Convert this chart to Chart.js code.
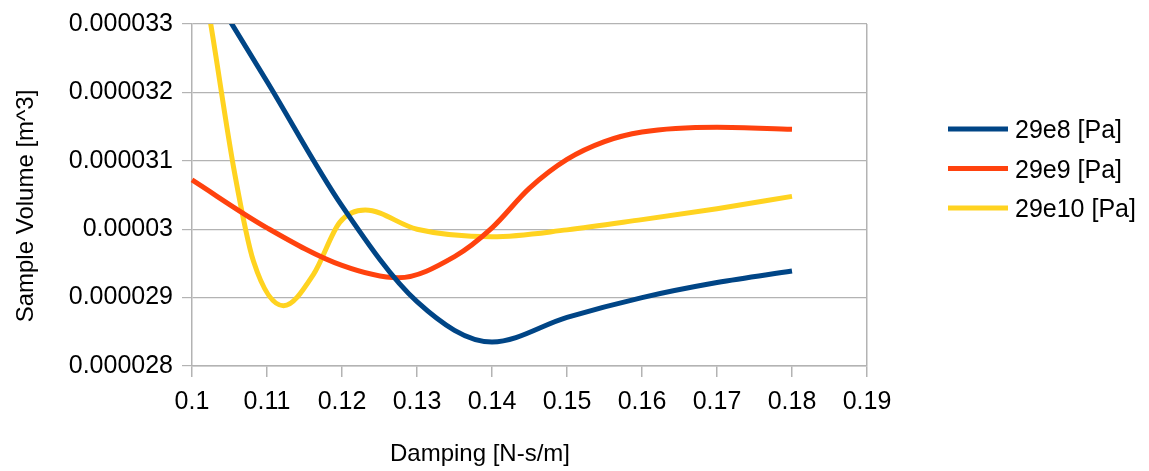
<!DOCTYPE html>
<html>
<head>
<meta charset="utf-8">
<script src="https://cdn.jsdelivr.net/npm/chart.js@4/dist/chart.umd.min.js"></script>
<style>
  html, body { margin: 0; padding: 0; background: #fff; }
  #chart-wrap { width: 1149px; height: 471px; }
</style>
</head>
<body>
<div id="chart-wrap"><canvas id="volume-chart" width="1149" height="471"></canvas></div>
<script>
// --- Data ---
const seriesLabels = ['29e8 [Pa]', '29e9 [Pa]', '29e10 [Pa]'];
const seriesColors = ['#004586', '#ff420e', '#ffd320'];

const dampingBlue = [0.1, 0.11, 0.12, 0.13, 0.14, 0.15, 0.16, 0.17, 0.18];
const volumeBlue = [33.95e-6, 32.16e-6, 30.34e-6, 28.94e-6, 28.35e-6, 28.71e-6, 29.0e-6, 29.22e-6, 29.39e-6];

const dampingRed = [0.1, 0.11, 0.12, 0.1275, 0.135, 0.14, 0.145, 0.15, 0.155, 0.16, 0.17, 0.18];
const volumeRed = [30.72e-6, 30.02e-6, 29.47e-6, 29.29e-6, 29.6e-6, 30.02e-6, 30.6e-6, 31.02e-6, 31.28e-6, 31.42e-6, 31.49e-6, 31.46e-6];

const dampingYellow = [0.1, 0.1025, 0.1057, 0.1082, 0.1122, 0.1162, 0.1197, 0.1231, 0.13, 0.14, 0.15, 0.16, 0.17, 0.18];
const volumeYellow = [34.6e-6, 33.0e-6, 30.81e-6, 29.53e-6, 28.88e-6, 29.34e-6, 30.1e-6, 30.28e-6, 30.0e-6, 29.89e-6, 29.99e-6, 30.14e-6, 30.3e-6, 30.48e-6];

const xTitle = 'Damping [N-s/m]';
const yTitle = 'Sample Volume [m^3]';

const FONT = '"Liberation Sans", Arial, sans-serif';
const GRID = '#b3b3b3';

function toPoints(xs, ys) {
    return xs.map((x, i) => ({ x: x, y: ys[i] }));
}

// --- Titles and legend drawn by hand to sit where the reference has them ---
const decorPlugin = {
    id: 'decor',
    afterDraw(chart) {
        const ctx = chart.ctx;
        ctx.save();
        ctx.fillStyle = '#000';

        // x axis title
        ctx.font = '24px ' + FONT;
        ctx.textAlign = 'center';
        ctx.textBaseline = 'alphabetic';
        ctx.fillText(xTitle, 480, 461);

        // y axis title
        ctx.save();
        ctx.translate(32.5, 206);
        ctx.rotate(-Math.PI / 2);
        ctx.fillText(yTitle, 0, 0);
        ctx.restore();

        // legend
        ctx.font = '25px ' + FONT;
        ctx.textAlign = 'left';
        chart.data.datasets.forEach((ds, i) => {
            const y = 129 + i * 39.5;
            ctx.strokeStyle = ds.borderColor;
            ctx.lineWidth = 5;
            ctx.beginPath();
            ctx.moveTo(948, y);
            ctx.lineTo(1008, y);
            ctx.stroke();
            ctx.fillText(ds.label, 1015, y + 9);
        });
        ctx.restore();
    }
};

const makeDataset = (i, xs, ys) => ({
    label: seriesLabels[i],
    data: toPoints(xs, ys),
    borderColor: seriesColors[i],
    backgroundColor: seriesColors[i],
    borderWidth: 5,
    pointRadius: 0,
    fill: false,
    cubicInterpolationMode: 'monotone',
    clip: { left: 3, top: 0, right: 3, bottom: 3 }
});

new Chart(document.getElementById('volume-chart'), {
    type: 'line',
    data: {
        datasets: [
            makeDataset(0, dampingBlue, volumeBlue),
            makeDataset(1, dampingRed, volumeRed),
            makeDataset(2, dampingYellow, volumeYellow)
        ]
    },
    options: {
        responsive: false,
        animation: false,
        devicePixelRatio: 1,
        layout: { padding: { top: 21, right: 282, left: 0, bottom: 0 } },
        plugins: {
            legend: { display: false },
            tooltip: { enabled: false }
        },
        scales: {
            x: {
                type: 'linear',
                min: 0.1,
                max: 0.19,
                afterFit: (scale) => { scale.height = 105; },
                ticks: {
                    stepSize: 0.01,
                    padding: 10,
                    color: '#000',
                    font: { family: FONT, size: 25 },
                    maxRotation: 0,
                    callback: (v) => String(Number(v.toFixed(2)))
                },
                grid: {
                    drawOnChartArea: true,
                    tickLength: 11,
                    tickColor: GRID,
                    color: (c) => (c.tick && Math.abs(c.tick.value - 0.19) < 1e-9) ? GRID : 'rgba(0,0,0,0)',
                    lineWidth: 1.5
                },
                border: { color: GRID, width: 1.5 }
            },
            y: {
                min: 0.000028,
                max: 0.000033,
                afterFit: (scale) => { scale.width = 192; },
                ticks: {
                    stepSize: 0.000001,
                    padding: 9,
                    color: '#000',
                    font: { family: FONT, size: 25 },
                    callback: (v) => String(Number(v.toFixed(6)))
                },
                grid: {
                    color: GRID,
                    tickColor: GRID,
                    tickLength: 10,
                    lineWidth: 1.2
                },
                border: { color: GRID, width: 1.5 }
            }
        }
    },
    plugins: [decorPlugin]
});
</script>
</body>
</html>
